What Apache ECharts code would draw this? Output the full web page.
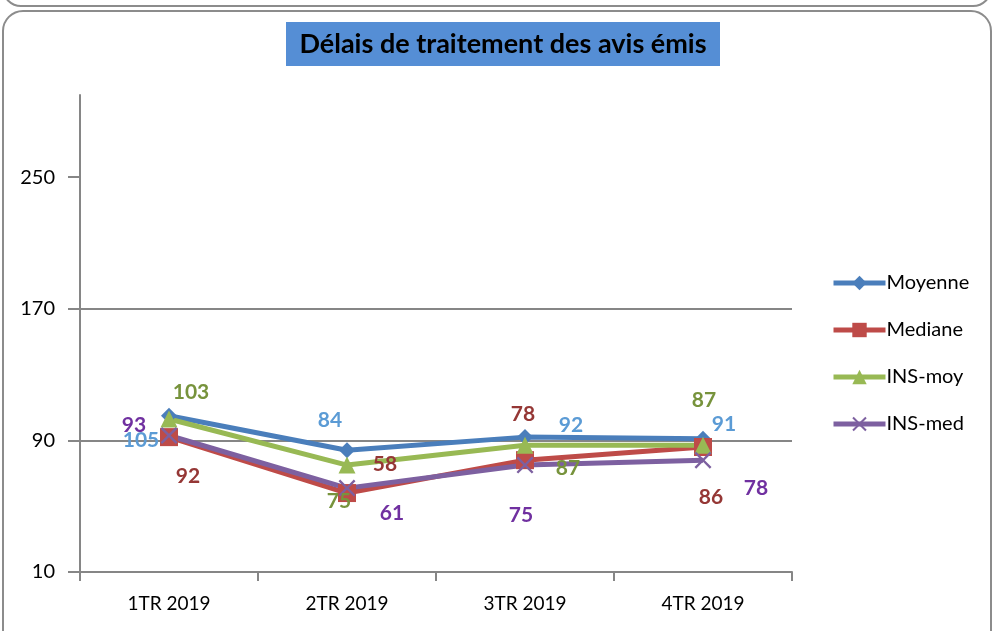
<!DOCTYPE html>
<html>
<head>
<meta charset="utf-8">
<script src="https://cdn.jsdelivr.net/npm/echarts@6/dist/echarts.min.js"></script>
<style>
    html, body { margin: 0; padding: 0; background: #fff; }
    #chart { width: 996px; height: 631px; }
</style>
</head>
<body>
<div id="chart"></div>
<script>
// données
var categories = ['1TR 2019', '2TR 2019', '3TR 2019', '4TR 2019'];
var moyenne = [105, 84, 92, 91];
var mediane = [92, 58, 78, 86];
var insMoy = [103, 75, 87, 87];
var insMed = [93, 61, 75, 78];
var yTicks = [10, 90, 170, 250];

// décalage des étiquettes (comme sur le graphique d'origine)
var offMoyenne = [[-28, 24], [-17, -30], [46, -12], [21, -15]];
var offMediane = [[19, 39], [38, -29], [-2, -46], [8, 50]];
var offInsMoy = [[22, -27], [-8, 36], [43, 23], [1, -45]];
var offInsMed = [[-35, -10], [45, 25], [-4, 50], [53, 28]];

var chart = echarts.init(document.getElementById('chart'));

var crossPath = 'path://M0,2 L2,0 L10,8 L18,0 L20,2 L12,10 L20,18 L18,20 L10,12 L2,20 L0,18 L8,10 Z';

function makeSeries(name, values, offsets, color, labelColor, symbol, size) {
    return {
        name: name,
        type: 'line',
        data: values.map(function (v, i) {
            return {
                value: v,
                label: { offset: offsets[i] }
            };
        }),
        symbol: symbol,
        symbolSize: size,
        showAllSymbol: true,
        lineStyle: { color: color, width: 5 },
        itemStyle: { color: color },
        label: {
            show: true,
            position: 'inside',
            color: labelColor,
            fontFamily: 'Lato',
            fontSize: 21,
            fontWeight: 'bold'
        },
        emphasis: { disabled: true },
        animation: false
    };
}

var option = {
    backgroundColor: '#fff',
    animation: false,
    textStyle: { fontFamily: 'Lato' },
    graphic: [
        {
            type: 'rect',
            shape: { x: 3, y: -40, width: 988, height: 46, r: 18 },
            style: { fill: 'none', stroke: '#8c8c8c', lineWidth: 2 }
        },
        {
            type: 'rect',
            shape: { x: 3, y: 11, width: 988, height: 640, r: 20 },
            style: { fill: 'none', stroke: '#8c8c8c', lineWidth: 2 }
        },
        {
            type: 'rect',
            shape: { x: 286, y: 22, width: 434, height: 44 },
            style: { fill: '#558ed5' }
        },
        {
            type: 'text',
            x: 503,
            y: 44,
            style: {
                text: 'Délais de traitement des avis émis',
                fill: '#000',
                font: 'bold 27px Lato',
                align: 'center',
                verticalAlign: 'middle'
            }
        }
    ],
    legend: {
        orient: 'vertical',
        left: 826,
        top: 268,
        itemWidth: 52,
        itemHeight: 18,
        itemGap: 27,
        lineStyle: { width: 5 },
        textStyle: { fontSize: 20, color: '#000', fontFamily: 'Lato', padding: [0, 0, 0, -4] },
        data: ['Moyenne', 'Mediane', 'INS-moy', 'INS-med']
    },
    grid: {
        left: 80,
        right: 204,
        top: 95,
        bottom: 59
    },
    xAxis: {
        type: 'category',
        data: categories,
        boundaryGap: true,
        axisLine: { lineStyle: { color: '#868686', width: 2 } },
        axisTick: { show: true, length: 9, lineStyle: { color: '#868686', width: 2 } },
        axisLabel: { color: '#000', fontSize: 19, margin: 22, fontFamily: 'Lato' }
    },
    yAxis: {
        type: 'value',
        min: 10,
        max: 300,
        interval: 80,
        axisLine: { show: true, lineStyle: { color: '#868686', width: 2 } },
        axisTick: {
            show: true,
            length: 12,
            customValues: yTicks,
            lineStyle: { color: '#868686', width: 2 }
        },
        axisLabel: {
            color: '#000',
            fontSize: 20,
            margin: 25,
            fontFamily: 'Lato',
            customValues: yTicks
        },
        splitLine: {
            show: true,
            showMinLine: false,
            showMaxLine: false,
            lineStyle: { color: '#868686', width: 2 }
        }
    },
    series: [
        makeSeries('Moyenne', moyenne, offMoyenne, '#4a7ebb', '#5b9bd5', 'diamond', 16),
        makeSeries('Mediane', mediane, offMediane, '#be4b48', '#953735', 'rect', 18),
        makeSeries('INS-moy', insMoy, offInsMoy, '#98b954', '#77933c', 'triangle', 17),
        makeSeries('INS-med', insMed, offInsMed, '#7d60a0', '#7030a0', crossPath, 17)
    ]
};

chart.setOption(option);
</script>
</body>
</html>
